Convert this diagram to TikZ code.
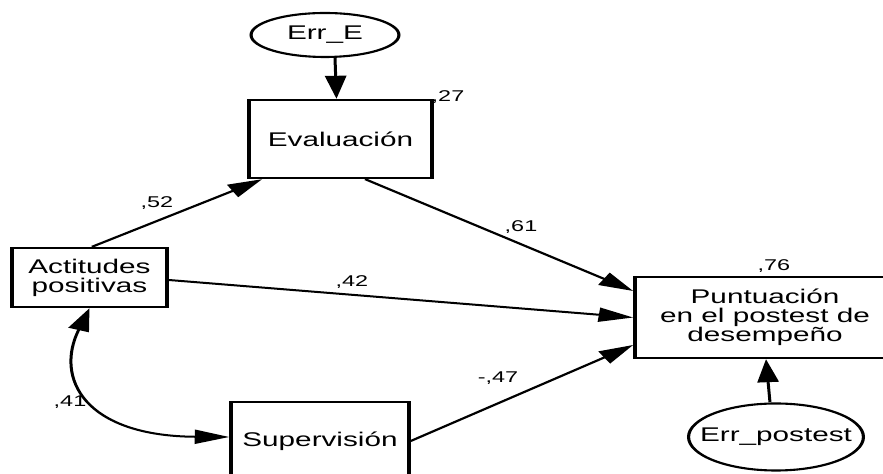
\documentclass[tikz,border=0pt]{standalone}
\usepackage{fontspec}
\setmainfont{Liberation Sans}
\usetikzlibrary{arrows.meta,shapes.geometric,calc}
\begin{document}
\begin{tikzpicture}
\useasboundingbox (0,0) rectangle (441.5pt,-237pt);
\begin{scope}[transform canvas={xscale=1.5}, x=0.33333pt, y=-0.5pt,
  box/.style={draw, line width=1.2pt, inner sep=0pt, align=center,
    font=\fontsize{9.9}{9.6}\selectfont},
  err/.style={ellipse, draw, line width=1.05pt, inner ysep=0pt,
    font=\fontsize{9.9}{9.6}\selectfont},
  lbl/.style={font=\fontsize{7.8}{8}\selectfont, inner sep=0pt, anchor=base},
  arr/.style={-{Triangle[length=11.5pt,width=7pt]}, line width=1pt},
  darr/.style={{Triangle[length=11.5pt,width=7pt]}-{Triangle[length=11.5pt,width=7pt]}, line width=1pt}]

\node[err, inner xsep=0pt, minimum width=49.3pt, minimum height=22pt] (errE) at (325,35) {Err\_E};
\node[box, minimum width=61pt, minimum height=39pt] (eval) at (340.5,139) {Evaluación};
\node[box, minimum width=51.7pt, minimum height=29.5pt] (act) at (89.5,277.5) {Actitudes\\positivas};
\node[box, minimum width=59.3pt, minimum height=39pt] (sup) at (320,441) {Supervisión};
\node[box, minimum width=86.7pt, minimum height=40.5pt] (punt) at (765,317.5) {Puntuación\\en el postest de\\desempeño};
\node[err, inner xsep=-4.7pt, minimum width=57.7pt, minimum height=33.5pt] (errP) at (776,437) {Err\_postest};

\draw[arr] ($(errE.south)+(10,0)$) -- ($(eval.north)+(-4,0)$);
\draw[arr] ($(act.north)+(2.5,0)$) -- ($(eval.south west)+(15,0)$);
\draw[arr] ($(eval.south west)+(118,0)$) -- ($(punt.west)+(0,-26.5)$);
\draw[arr] ($(act.east)+(0,2.5)$) -- (punt.west);
\draw[arr] (sup.east) -- ($(punt.west)+(0,27.5)$);
\draw[arr] ($(errP.north)+(-6,0)$) -- ($(punt.south)+(1,0)$);
\draw[darr] (act.south) .. controls +(-35,70) and +(-145,-1) .. ($(sup.west)+(0,-4)$);

\node[lbl] (l27) at (448,102) {,27};
\node[lbl] (l52) at (157,208) {,52};
\node[lbl] (l61) at (521,232) {,61};
\node[lbl] (l42) at (352,287) {,42};
\node[lbl] (l47) at (498,383) {-,47};
\node[lbl] (l76) at (774,271) {,76};
\node[lbl] (l41) at (70,407) {,41};
\end{scope}
\end{tikzpicture}
\end{document}
